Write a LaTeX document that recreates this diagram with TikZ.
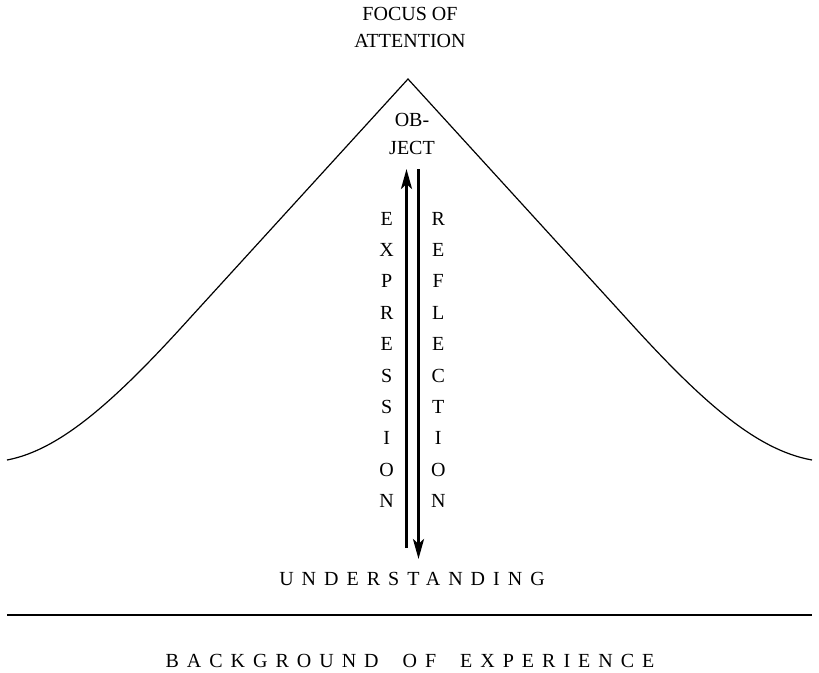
\documentclass[tikz,border=0pt]{standalone}
\usepackage{fontspec}
\setmainfont{Liberation Serif}
\usetikzlibrary{arrows.meta}
\begin{document}
\begin{tikzpicture}[x=1pt,y=-1pt,
  lbl/.style={inner sep=0pt,anchor=base,font=\fontsize{20}{24}\selectfont},
  spaced/.style={inner sep=0pt,anchor=base,font=\fontsize{20}{24}\selectfont\addfontfeature{LetterSpace=40}},
  hill/.style={line width=1.2pt},
  flow/.style={line width=3pt,-{Stealth[length=20pt,width=11pt,inset=5pt]}}]
\useasboundingbox (0,0) rectangle (819,672);
% hill
\coordinate (L) at (7,460);
\coordinate (LA) at (190,318);
\coordinate (P) at (408,79);
\coordinate (RA) at (626,318);
\coordinate (R) at (812,460);
\draw[hill] (L) .. controls (60,450) and (115,401) .. (LA) -- (P) -- (RA) .. controls (701,401) and (756,450) .. (R);
% base line
\coordinate (BL) at (7,615);
\coordinate (BR) at (812,615);
\draw[line width=1.3pt] (BL) -- (BR);
% texts
\node[lbl] (focus1) at (410,20.5) {FOCUS OF};
\node[lbl] (focus2) at (410,47.5) {ATTENTION};
\node[lbl] (obj1) at (412,126) {OB-};
\node[lbl] (obj2) at (412,154) {JECT};
\node[spaced] (und) at (412,585) {UNDERSTANDING};
\node[spaced] (bg) at (410,667) {BACKGROUND\hspace{11pt} OF\hspace{11pt} EXPERIENCE};
% vertical words
\foreach \l [count=\i] in {E,X,P,R,E,S,S,I,O,N}
  \node[lbl] (ex\i) at (386.7,{225+(\i-1)*31.4}) {\l};
\foreach \l [count=\i] in {R,E,F,L,E,C,T,I,O,N}
  \node[lbl] (re\i) at (438.3,{225+(\i-1)*31.4}) {\l};
% arrows
\coordinate (upB) at (406.5,548);
\coordinate (upT) at (406.5,169);
\coordinate (dnT) at (418.5,169);
\coordinate (dnB) at (418.5,559);
\draw[flow] (upB) -- (upT);
\draw[flow] (dnT) -- (dnB);
\end{tikzpicture}
\end{document}
